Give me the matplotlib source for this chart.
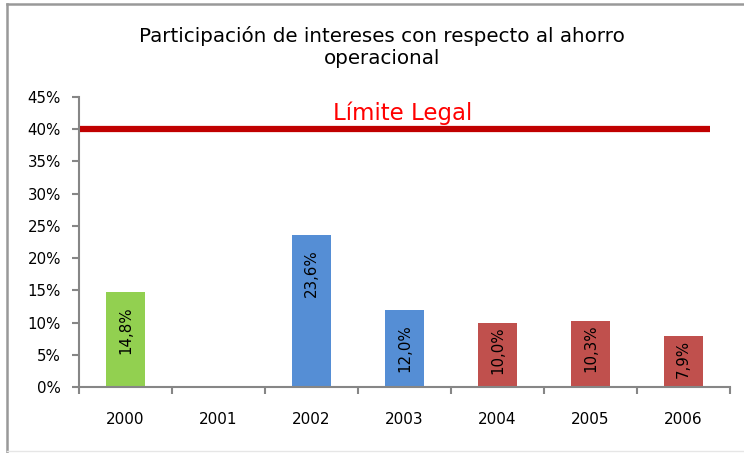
import matplotlib.pyplot as plt
from matplotlib.lines import Line2D

years = ["2000", "2001", "2002", "2003", "2004", "2005", "2006"]
values = [14.8, 0.0, 23.6, 12.0, 10.0, 10.3, 7.9]
labels = ["14,8%", "", "23,6%", "12,0%", "10,0%", "10,3%", "7,9%"]
colors = ["#92D050", "#92D050", "#558ED5", "#558ED5", "#C0504D", "#C0504D", "#C0504D"]
limit = 40

fig = plt.figure(figsize=(7.44, 4.53), dpi=100)
ax = fig.add_axes([79 / 744, 1 - 387 / 453, 651 / 744, 290 / 453])

x = range(len(years))
ax.bar(x, values, width=0.42, color=colors, zorder=2)
for i, (v, lab, c) in enumerate(zip(values, labels, colors)):
    if lab:
        off = -2.5 if c == "#C0504D" else -10.5
        ax.annotate(lab, (i, v), xytext=(0, off), textcoords="offset points",
                    rotation=90, ha="center", va="top", fontsize=10.8, color="black")

# limite legal
ax.plot([-0.49, 6.28], [limit, limit], color="#C00000", linewidth=4.5, solid_capstyle="butt", zorder=3)
ax.text(2.98, 40.7, "Límite Legal", color="#FF0000", fontsize=16.5,
        ha="center", va="bottom")

ax.set_xlim(-0.5, 6.5)
ax.set_ylim(0, 45)
ax.set_yticks(range(0, 50, 5))
ax.set_yticklabels([f"{t}%" for t in range(0, 50, 5)])
ax.set_xticks(x)
ax.set_xticklabels(years)
ax.set_xticks([i - 0.5 for i in range(8)], minor=True)
ax.tick_params(axis="x", which="major", length=0, pad=18, labelsize=11)
ax.tick_params(axis="x", which="minor", length=5, color="#868686", width=1.5)
ax.tick_params(axis="y", length=5, color="#868686", width=1.5, labelsize=10.8, pad=8)
for s in ["top", "right"]:
    ax.spines[s].set_visible(False)
for s in ["left", "bottom"]:
    ax.spines[s].set_color("#868686")
    ax.spines[s].set_linewidth(1.5)

fig.text(0.514, 1 - 47 / 453, "Participación de intereses con respecto al ahorro\noperacional",
         ha="center", va="center", fontsize=14.3, linespacing=1.2)

# marco exterior
fig.add_artist(Line2D([7 / 744, 1], [1 - 4 / 453, 1 - 4 / 453], color="#999999", linewidth=1.8))
fig.add_artist(Line2D([7 / 744, 7 / 744], [0, 1 - 4 / 453], color="#999999", linewidth=1.8))
fig.add_artist(Line2D([7 / 744, 1], [2 / 453, 2 / 453], color="#E6E6E6", linewidth=1))

fig.savefig("out.png", dpi=100)
